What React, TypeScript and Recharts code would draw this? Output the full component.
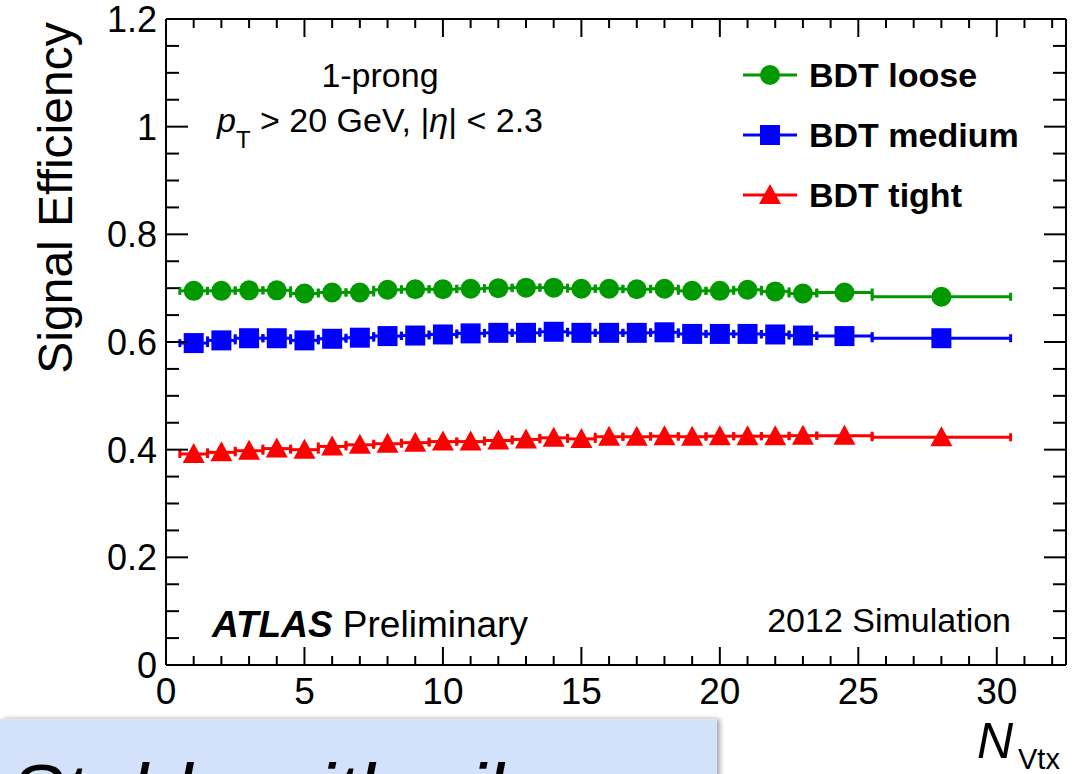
import { ScatterChart, Scatter, XAxis, YAxis, ErrorBar, Legend } from 'recharts'

// bin centres in N_Vtx and half bin widths
const nvtx = [1, 2, 3, 4, 5, 6, 7, 8, 9, 10, 11, 12, 13, 14, 15, 16, 17, 18, 19, 20, 21, 22, 23, 24.5, 28]
const binHalfWidth = [0.5, 0.5, 0.5, 0.5, 0.5, 0.5, 0.5, 0.5, 0.5, 0.5, 0.5, 0.5, 0.5, 0.5, 0.5, 0.5, 0.5, 0.5, 0.5, 0.5, 0.5, 0.5, 0.5, 1, 2.5]

const effLoose = [0.695, 0.695, 0.696, 0.696, 0.690, 0.692, 0.692, 0.697, 0.698, 0.698, 0.699, 0.700, 0.701, 0.701, 0.699, 0.699, 0.698, 0.699, 0.695, 0.695, 0.697, 0.694, 0.690, 0.692, 0.684]
const effMedium = [0.598, 0.603, 0.607, 0.607, 0.603, 0.606, 0.608, 0.611, 0.612, 0.614, 0.616, 0.617, 0.617, 0.619, 0.617, 0.617, 0.617, 0.618, 0.615, 0.615, 0.615, 0.614, 0.612, 0.611, 0.607]
const effTight = [0.392, 0.395, 0.398, 0.402, 0.400, 0.406, 0.409, 0.411, 0.413, 0.415, 0.415, 0.417, 0.419, 0.422, 0.420, 0.424, 0.424, 0.425, 0.424, 0.425, 0.425, 0.425, 0.426, 0.426, 0.423]

const xTicks = [0, 1, 2, 3, 4, 5, 6, 7, 8, 9, 10, 11, 12, 13, 14, 15, 16, 17, 18, 19, 20, 21, 22, 23, 24, 25, 26, 27, 28, 29, 30, 31, 32]
const yTicks = [0, 0.05, 0.1, 0.15, 0.2, 0.25, 0.3, 0.35, 0.4, 0.45, 0.5, 0.55, 0.6, 0.65, 0.7, 0.75, 0.8, 0.85, 0.9, 0.95, 1, 1.05, 1.1, 1.15, 1.2]
const yTickLabels: Record<string, string> = { '0': '0', '0.2': '0.2', '0.4': '0.4', '0.6': '0.6', '0.8': '0.8', '1': '1', '1.2': '1.2' }

const GREEN = '#009900'
const BLUE = '#0000ff'
const RED = '#ff0000'

const toRows = (eff: number[]) => nvtx.map((x, i) => ({ x, y: eff[i], ex: binHalfWidth[i] }))

const isMajorX = (v: number) => v % 5 === 0
const isMajorY = (v: number) => String(v) in yTickLabels

const CircleMark = (p: any) => <circle cx={p.cx} cy={p.cy} r={10} fill={GREEN} />
const SquareMark = (p: any) => <rect x={p.cx - 10} y={p.cy - 10} width={20} height={20} fill={BLUE} />
const TriangleMark = (p: any) => (
  <polygon points={`${p.cx},${p.cy - 11} ${p.cx - 11},${p.cy + 9} ${p.cx + 11},${p.cy + 9}`} fill={RED} />
)

const series = [
  { name: 'BDT loose', color: GREEN, data: toRows(effLoose), shape: CircleMark },
  { name: 'BDT medium', color: BLUE, data: toRows(effMedium), shape: SquareMark },
  { name: 'BDT tight', color: RED, data: toRows(effTight), shape: TriangleMark },
]

const BottomTick = (props: any) => {
  const { x, y, payload } = props
  const major = isMajorX(payload.value)
  return (
    <g>
      <line x1={x} y1={y} x2={x} y2={y - (major ? 18 : 9)} stroke="#000" strokeWidth={2} />
      {major && (
        <text x={x} y={y + 39} textAnchor="middle" fontSize={37} fill="#000">{payload.value}</text>
      )}
    </g>
  )
}

const TopTick = (props: any) => {
  const { x, y, payload } = props
  const major = isMajorX(payload.value)
  return <line x1={x} y1={y} x2={x} y2={y + (major ? 18 : 9)} stroke="#000" strokeWidth={2} />
}

const LeftTick = (props: any) => {
  const { x, y, payload } = props
  const major = isMajorY(payload.value)
  return (
    <g>
      <line x1={x} y1={y} x2={x + (major ? 22 : 13)} y2={y} stroke="#000" strokeWidth={2} />
      {major && (
        <text x={x - 9} y={y + 13} textAnchor="end" fontSize={36} fill="#000">
          {yTickLabels[String(payload.value)]}
        </text>
      )}
    </g>
  )
}

const RightTick = (props: any) => {
  const { x, y, payload } = props
  const major = isMajorY(payload.value)
  return <line x1={x} y1={y} x2={x - (major ? 22 : 13)} y2={y} stroke="#000" strokeWidth={2} />
}

const LegendMarker = ({ name, color }: { name: string; color: string }) => {
  if (name === 'BDT loose') return <circle cx={27} cy={15} r={10} fill={color} />
  if (name === 'BDT medium') return <rect x={17} y={5} width={20} height={20} fill={color} />
  return <polygon points="27,4 16,24 38,24" fill={color} />
}

const renderLegend = () => (
  <div>
    {series.map(s => (
      <div key={s.name} style={{ display: 'flex', alignItems: 'center', height: 60 }}>
        <svg width={54} height={30}>
          <line x1={0} y1={15} x2={54} y2={15} stroke={s.color} strokeWidth={3} />
          <LegendMarker name={s.name} color={s.color} />
        </svg>
        <span style={{ fontWeight: 'bold', fontSize: 34, marginLeft: 12, color: '#000' }}>{s.name}</span>
      </div>
    ))}
  </div>
)

const axisLine = { stroke: '#000', strokeWidth: 2 }

export default function App() {
  return (
    <div
      style={{
        position: 'absolute',
        left: 0,
        top: 0,
        width: 1091,
        height: 774,
        overflow: 'hidden',
        background: '#fff',
        fontFamily: '"Liberation Sans", Arial, Helvetica, sans-serif',
      }}
    >
      <ScatterChart width={1091} height={774} margin={{ top: 18, right: 24, bottom: 108, left: 165 }}>
        <XAxis
          xAxisId="b"
          type="number"
          dataKey="x"
          domain={[0, 32.5]}
          ticks={xTicks}
          interval={0}
          height={1}
          tickSize={0}
          tickMargin={0}
          tick={<BottomTick />}
          axisLine={axisLine}
          tickLine={false}
          allowDataOverflow
        />
        <XAxis
          xAxisId="t"
          orientation="top"
          type="number"
          dataKey="x"
          domain={[0, 32.5]}
          ticks={xTicks}
          interval={0}
          height={1}
          tickSize={0}
          tickMargin={0}
          tick={<TopTick />}
          axisLine={axisLine}
          tickLine={false}
          allowDataOverflow
        />
        <YAxis
          yAxisId="l"
          type="number"
          dataKey="y"
          domain={[0, 1.2]}
          ticks={yTicks}
          interval={0}
          width={1}
          tickSize={0}
          tickMargin={0}
          tick={<LeftTick />}
          axisLine={axisLine}
          tickLine={false}
          allowDataOverflow
        />
        <YAxis
          yAxisId="r"
          orientation="right"
          type="number"
          dataKey="y"
          domain={[0, 1.2]}
          ticks={yTicks}
          interval={0}
          width={1}
          tickSize={0}
          tickMargin={0}
          tick={<RightTick />}
          axisLine={axisLine}
          tickLine={false}
          allowDataOverflow
        />
        <Legend
          layout="vertical"
          align="center"
          verticalAlign="middle"
          content={renderLegend}
          wrapperStyle={{ position: 'absolute', left: 743, top: 45, width: 330 }}
        />
        {series.map(s => (
          <Scatter
            key={s.name}
            name={s.name}
            xAxisId="b"
            yAxisId="l"
            data={s.data}
            fill={s.color}
            shape={s.shape}
            isAnimationActive={false}
          >
            <ErrorBar dataKey="ex" direction="x" width={4} strokeWidth={3} stroke={s.color} isAnimationActive={false} />
          </Scatter>
        ))}
      </ScatterChart>

      <svg
        width={1091}
        height={774}
        style={{ position: 'absolute', left: 0, top: 0, pointerEvents: 'none' }}
      >
        <text x={72} y={198} transform="rotate(-90 72 198)" textAnchor="middle" fontSize={48} fill="#000">
          Signal Efficiency
        </text>
        <text x={380} y={87} textAnchor="middle" fontSize={34} fill="#000">1-prong</text>
        <text x={217} y={132} fontSize={34} fill="#000">
          <tspan fontStyle="italic">p</tspan>
          <tspan fontSize={24} dy={16}>T</tspan>
          <tspan dy={-16}>{' > 20 GeV, |'}</tspan>
          <tspan fontStyle="italic">η</tspan>
          <tspan>{'| < 2.3'}</tspan>
        </text>
        <text x={212} y={637} fontSize={37} fill="#000">
          <tspan fontWeight="bold" fontStyle="italic">ATLAS</tspan>
          <tspan> Preliminary</tspan>
        </text>
        <text x={1011} y={632} textAnchor="end" fontSize={34} fill="#000">2012 Simulation</text>
        <text x={977} y={758} fontSize={50} fontStyle="italic" fill="#000">N</text>
        <text x={1018} y={769} fontSize={29} fill="#000">Vtx</text>
      </svg>

      <div
        style={{
          position: 'absolute',
          left: 0,
          top: 719,
          width: 717,
          height: 60,
          background: '#d3e1fa',
          borderTop: '1px solid #e4e8ee',
          boxShadow: '3px 0 5px rgba(0,0,0,0.35)',
          overflow: 'hidden',
        }}
      >
        <svg width={717} height={60}>
          <text x={10} y={100} fontSize={80} fontStyle="italic" fill="#000">Stable with pile-up</text>
        </svg>
      </div>
    </div>
  )
}
